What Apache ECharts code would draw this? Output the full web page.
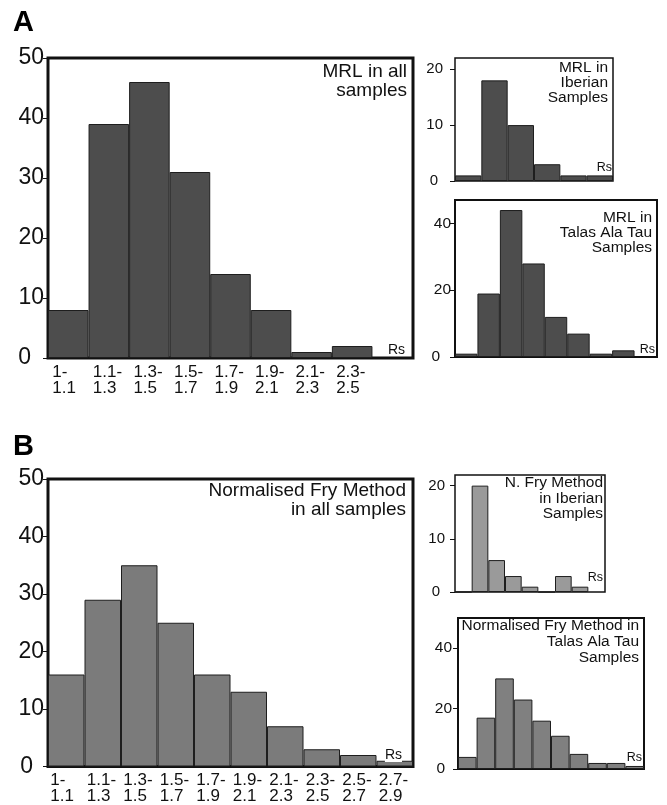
<!DOCTYPE html>
<html>
<head>
<meta charset="utf-8">
<script src="https://cdn.jsdelivr.net/npm/echarts@6/dist/echarts.min.js"></script>
<style>
html,body{margin:0;padding:0;background:#fff;}
#chart{width:667px;height:805px;}
</style>
</head>
<body>
<div id="chart"></div>
<script>
const FONT = '"Liberation Sans", Arial, Helvetica, sans-serif';

// ---- data ----
const binsA = ['1-\n1.1','1.1-\n1.3','1.3-\n1.5','1.5-\n1.7','1.7-\n1.9','1.9-\n2.1','2.1-\n2.3','2.3-\n2.5',''];
const binsB = ['1-\n1.1','1.1-\n1.3','1.3-\n1.5','1.5-\n1.7','1.7-\n1.9','1.9-\n2.1','2.1-\n2.3','2.3-\n2.5','2.5-\n2.7','2.7-\n2.9'];

const mrlAll     = [8, 39, 46, 31, 14, 8, 1, 2, null];
const mrlIberian = [1, 18, 10, 3, 1, 1];
const mrlTalas   = [1, 19, 44, 28, 12, 7, 1, 2, null];
const fryAll     = [16, 29, 35, 25, 16, 13, 7, 3, 2, 1];
const fryIberian = [0, 20, 6, 3, 1, 0, 3, 1, null];
const fryTalas   = [4, 17, 30, 23, 16, 11, 5, 2, 2, 1];

const ticksMain  = [0, 10, 20, 30, 40, 50];
const ticksIber  = [0, 10, 20];
const ticksTalas = [0, 20, 40];

const titleMrlAll   = 'MRL in all\nsamples';
const titleMrlIber  = 'MRL in\nIberian\nSamples';
const titleMrlTalas = 'MRL in\nTalas Ala Tau\nSamples';
const titleFryAll   = 'Normalised Fry Method\nin all samples';
const titleFryIber  = 'N. Fry Method\nin Iberian\nSamples';
const titleFryTalas = 'Normalised Fry Method in\nTalas Ala Tau\nSamples';
const unitLabel = 'Rs';

// ---- panel layout / style ----
const panels = [
  {grid:{left:48, top:58, width:365, height:300}, border:3, cats:binsA, data:mrlAll, max:50, ticks:ticksMain, interval:10,
   color:'#4d4d4d', showX:true, yFont:23, yMargin:4, zeroShift:13},
  {grid:{left:455, top:58, width:158, height:123}, border:1.5, cats:binsA.slice(0,6), data:mrlIberian, max:22, ticks:ticksIber, interval:10,
   color:'#4d4d4d', showX:false, yFont:15, yMargin:12, zeroShift:5},
  {grid:{left:455, top:200, width:202, height:157}, border:2, cats:binsA, data:mrlTalas, max:47, ticks:ticksTalas, interval:20,
   color:'#4d4d4d', showX:false, yFont:15.5, yMargin:4, zeroShift:11},
  {grid:{left:48, top:479, width:365, height:291}, border:3, cats:binsB, data:fryAll, max:50, ticks:ticksMain, interval:10,
   color:'#7b7b7b', showX:true, yFont:23, yMargin:4, zeroShift:11},
  {grid:{left:455, top:475, width:150, height:117}, border:1.5, cats:binsB.slice(0,9), data:fryIberian, max:22, ticks:ticksIber, interval:10,
   color:'#9a9a9a', showX:false, yFont:15, yMargin:10, zeroShift:5},
  {grid:{left:458, top:618, width:186, height:151}, border:2, cats:binsB, data:fryTalas, max:50, ticks:ticksTalas, interval:20,
   color:'#808080', showX:false, yFont:15.5, yMargin:6, zeroShift:7}
];

const grids = [], xAxes = [], yAxes = [], series = [];
panels.forEach((p, i) => {
  grids.push(Object.assign({show:true, borderColor:'#111', borderWidth:p.border, backgroundColor:'transparent', containLabel:false}, p.grid));
  xAxes.push({
    type:'category', gridIndex:i, data:p.cats,
    axisLine:{show:false}, axisTick:{show:false},
    axisLabel:{
      show:p.showX, interval:0, margin:6, color:'#111',
      formatter: v => v ? v.split('\n').map(s => '{l|' + s + '}').join('\n') : '',
      rich:{l:{width:32, align:'left', fontSize:17, lineHeight:16, fontFamily:FONT, color:'#111'}}
    }
  });
  yAxes.push({
    type:'value', gridIndex:i, min:0, max:p.max, interval:p.interval,
    splitLine:{show:false},
    axisLine:{show:false},
    axisTick:{show:true, length:5, inside:false, lineStyle:{color:'#111', width:1}, customValues:p.ticks},
    axisLabel:{
      margin:p.yMargin, color:'#111', fontFamily:FONT, fontSize:p.yFont, customValues:p.ticks,
      formatter: v => v === 0 ? '{z|0}' : '{n|' + v + '}',
      rich:{
        z:{fontSize:p.yFont, fontFamily:FONT, color:'#111', padding:[0, p.zeroShift, 0, 0]},
        n:{fontSize:p.yFont, fontFamily:FONT, color:'#111'}
      }
    }
  });
  series.push({
    type:'bar', xAxisIndex:i, yAxisIndex:i, data:p.data,
    barCategoryGap:'0%', barGap:'0%',
    itemStyle:{color:p.color, borderColor:'#1e1e1e', borderWidth:1},
    emphasis:{disabled:true}, silent:true
  });
});

// right-aligned annotation: x = right edge of text, y = top of text block
function note(text, x, y, size, lh, bg) {
  return {
    type:'text', x:x, y:y, silent:true, z:100,
    style:{text:text, textAlign:'right', textVerticalAlign:'top', fontFamily:FONT, fontSize:size, lineHeight:lh,
           fill:'#111', backgroundColor: bg ? '#fff' : null}
  };
}

const graphics = [
  {type:'text', x:13, y:8, style:{text:'A', fontFamily:FONT, fontSize:29, lineHeight:29, fontWeight:'bold', fill:'#000', textVerticalAlign:'top'}},
  {type:'text', x:13, y:432, style:{text:'B', fontFamily:FONT, fontSize:29, lineHeight:29, fontWeight:'bold', fill:'#000', textVerticalAlign:'top'}},
  note(titleMrlAll,   407, 62, 19, 19),
  note(titleMrlIber,  608, 60, 15.5, 15),
  note(titleMrlTalas, 652, 210, 15.5, 15),
  note(titleFryAll,   406, 481, 19, 19.3),
  note(titleFryIber,  603, 475, 15.5, 15.5),
  note(titleFryTalas, 639, 618, 15.5, 15.8),
  note(unitLabel, 405, 343, 14, 14),
  note(unitLabel, 612, 161, 12.5, 12.5),
  note(unitLabel, 655, 343, 12.5, 12.5),
  note(unitLabel, 402, 748, 14, 14, true),
  note(unitLabel, 603, 571, 12.5, 12.5),
  note(unitLabel, 642, 751, 12.5, 12.5, true)
];

const chart = echarts.init(document.getElementById('chart'), null, {renderer:'canvas'});
chart.setOption({
  animation:false,
  backgroundColor:'#fff',
  graphic:graphics,
  grid:grids, xAxis:xAxes, yAxis:yAxes, series:series
});
</script>
</body>
</html>
